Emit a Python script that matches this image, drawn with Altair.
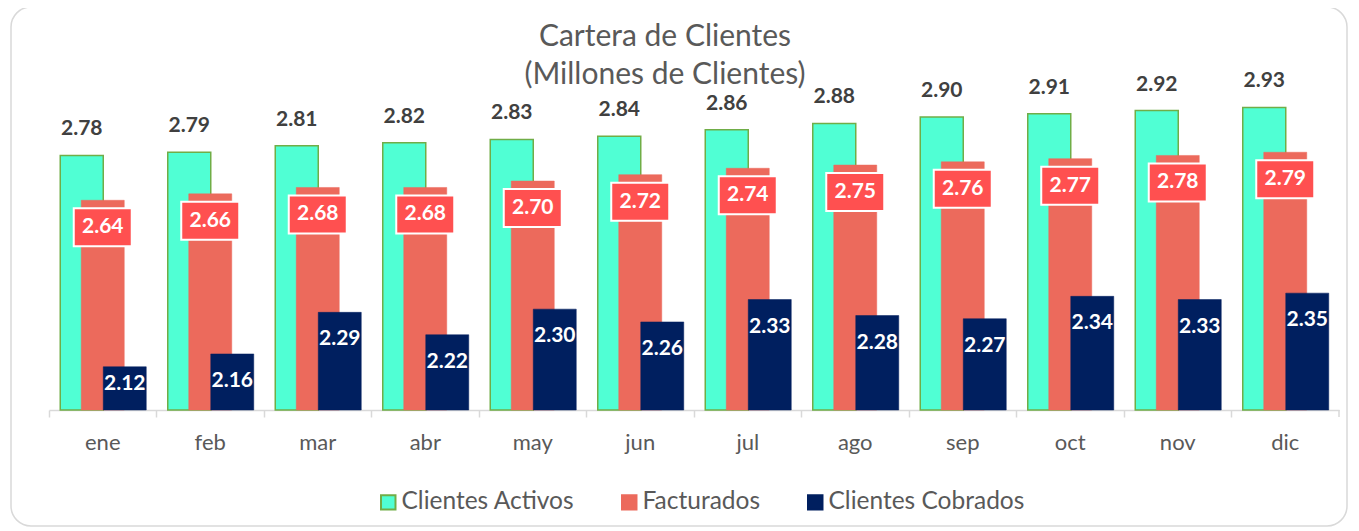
import altair as alt
import pandas as pd

meses = ["ene", "feb", "mar", "abr", "may", "jun", "jul", "ago", "sep", "oct", "nov", "dic"]
activos = [2.78, 2.79, 2.81, 2.82, 2.83, 2.84, 2.86, 2.88, 2.90, 2.91, 2.92, 2.93]
facturados = [2.64, 2.66, 2.68, 2.68, 2.70, 2.72, 2.74, 2.75, 2.76, 2.77, 2.78, 2.79]
cobrados = [2.12, 2.16, 2.29, 2.22, 2.30, 2.26, 2.33, 2.28, 2.27, 2.34, 2.33, 2.35]
series = ["Clientes Activos", "Facturados", "Clientes Cobrados"]

rows = []
for s, vals in zip(series, [activos, facturados, cobrados]):
    for m, v in zip(meses, vals):
        rows.append({"mes": m, "serie": s, "valor": v})
df = pd.DataFrame(rows)

YMIN, YMAX = 1.985, 3.0
W, H = 1290, 325
FONT = "Lato"

fill_scale = alt.Scale(domain=series, range=["#50FFD4", "#EC6A5C", "#001F5F"])
stroke_scale = alt.Scale(domain=series, range=["#70AD47", "#EC6A5C", "#001F5F"])

xenc = alt.X("mes:N", sort=meses, scale=alt.Scale(paddingInner=0, paddingOuter=0),
             axis=alt.Axis(title=None, labelAngle=0, labelFontSize=22, labelColor="#595959",
                           labelFont=FONT, labelPadding=15, domainColor="#d9d9d9", domainWidth=1.5,
                           tickColor="#d9d9d9", tickWidth=1.5, tickSize=7, bandPosition=0,
                           grid=False))
yscale = alt.Scale(domain=[YMIN, YMAX], zero=False, nice=False)
yenc = alt.Y("valor:Q", scale=yscale, axis=None)

base = alt.Chart(df)

legend = alt.Legend(title=None, orient="none", legendX=327, legendY=405, direction="horizontal",
                    symbolType="square", symbolSize=210, symbolStrokeWidth=2,
                    labelFontSize=24.5, labelFont=FONT, labelColor="#595959", labelLimit=400,
                    columnPadding=42, labelOffset=1)

def bars(name, xoff):
    return base.transform_filter(alt.datum.serie == name).mark_bar(
        width=43, xOffset=xoff, strokeWidth=1.5 if name == "Clientes Activos" else 0.5
    ).encode(
        x=xenc, y=yenc, y2=alt.datum(YMIN),
        fill=alt.Fill("serie:N", scale=fill_scale, legend=legend),
        stroke=alt.Stroke("serie:N", scale=stroke_scale, legend=legend),
    )

b_act = bars("Clientes Activos", -21)
b_fac = bars("Facturados", 0)
b_cob = bars("Clientes Cobrados", 22)

t_act = base.transform_filter(alt.datum.serie == "Clientes Activos").mark_text(
    xOffset=-21, dy=-26, baseline="middle", font=FONT, fontSize=21, fontWeight="bold", color="#404040"
).encode(x=xenc, y=yenc, text=alt.Text("valor:Q", format=".2f"))

box_fac = base.transform_filter(alt.datum.serie == "Facturados").mark_point(
    shape="M-1,-0.655L1,-0.655L1,0.655L-1,0.655Z", size=58 * 58, filled=True,
    fill="#FF5050", stroke="white", strokeWidth=2, opacity=1, yOffset=27
).encode(x=xenc, y=yenc)

t_fac = base.transform_filter(alt.datum.serie == "Facturados").mark_text(
    dy=27, baseline="middle", font=FONT, fontSize=21, fontWeight="bold", color="white"
).encode(x=xenc, y=yenc, text=alt.Text("valor:Q", format=".2f"))

t_cob = base.transform_filter(alt.datum.serie == "Clientes Cobrados").transform_calculate(
    lab="max(datum.valor - 0.0843, 2.066)"
).mark_text(
    xOffset=22, baseline="middle", font=FONT, fontSize=21, fontWeight="bold", color="white"
).encode(x=xenc, y=alt.Y("lab:Q", scale=yscale, axis=None), text=alt.Text("valor:Q", format=".2f"))

last_tick = alt.Chart(alt.Data(values=[{}])).mark_rule(color="#d9d9d9", strokeWidth=1.5).encode(
    x=alt.value(W), y=alt.value(H), y2=alt.value(H + 7)
)

border = alt.Chart(alt.Data(values=[{}])).mark_rect(
    fill="transparent", stroke="#d9d9d9", strokeWidth=1.5, cornerRadius=20
).encode(x=alt.value(-38), x2=alt.value(1298), y=alt.value(-78), y2=alt.value(441))

chart = alt.layer(
    border, b_act, b_fac, b_cob, t_act, box_fac, t_fac, t_cob, last_tick
).resolve_scale(fill="shared", stroke="shared").properties(
    width=W, height=H,
    view=alt.ViewBackground(strokeOpacity=0, strokeWidth=0),
    autosize=alt.AutoSizeParams(type="none"),
    padding={"left": 41, "top": 77, "right": 10, "bottom": 118},
    title=alt.TitleParams(text=["Cartera de Clientes", "(Millones de Clientes)"], anchor="middle",
                          fontSize=30, font=FONT, color="#595959", fontWeight="normal",
                          lineHeight=38, dx=-29, dy=84, offset=0),
).configure(background="white").configure_view(stroke="transparent", strokeWidth=0)

chart.save("out.html", embed_options={"renderer": "svg", "actions": False})
